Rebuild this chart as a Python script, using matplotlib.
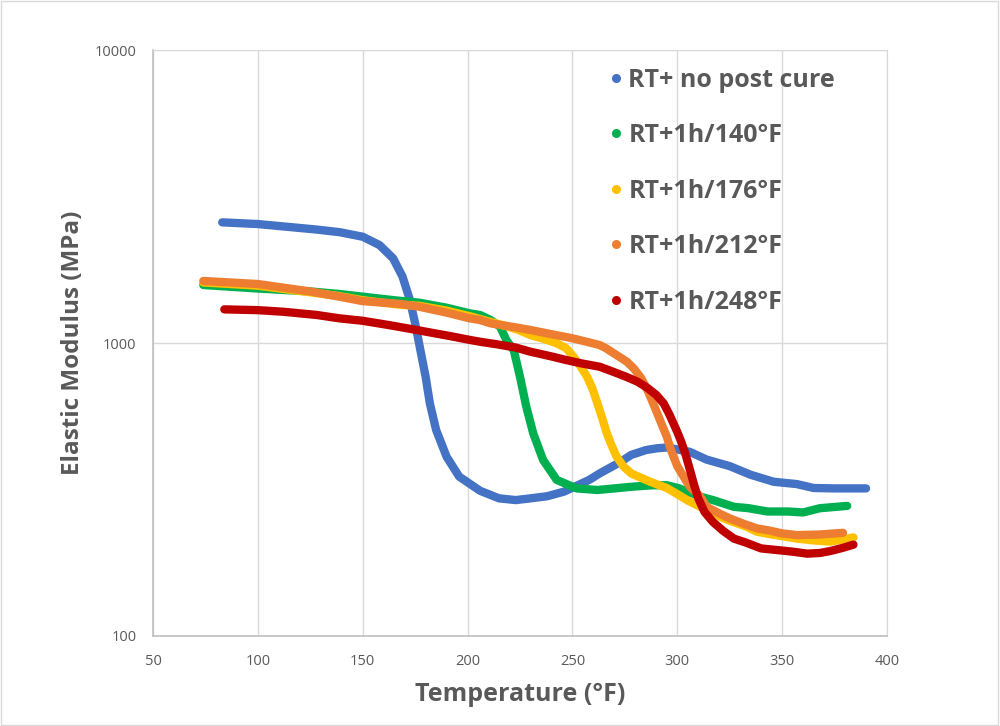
import matplotlib
matplotlib.use("Agg")
import matplotlib.pyplot as plt
from matplotlib.lines import Line2D
from matplotlib.patches import Rectangle
from matplotlib.ticker import NullLocator

plt.rcParams['font.family'] = ['Open Sans', 'DejaVu Sans']

# ---- data ----
labels = ["RT+ no post cure", "RT+1h/140°F", "RT+1h/176°F", "RT+1h/212°F", "RT+1h/248°F"]
colors = ["#4472C4", "#00B050", "#FFC000", "#ED7D31", "#C00000"]

blue_x = [83, 100, 128, 139, 150, 158, 164.5, 169, 172.5, 175, 177.5, 180, 182, 185, 190, 196,
          206, 215, 223, 230, 238, 246, 258, 263, 273, 278, 285, 290, 295, 301, 306, 314, 325,
          335, 346, 357, 365, 375, 390]
blue_y = [2582, 2548, 2440, 2390, 2306, 2160, 1946, 1684, 1402, 1167, 946, 767, 623, 505, 409, 350,
          313, 295, 291, 295, 300, 311, 341, 359, 393, 415, 431, 437, 440, 432, 425, 400, 380,
          355, 336, 330, 320, 319, 319]

green_x = [74, 100, 125, 139, 150, 165, 177, 190, 201, 206, 211, 215.5, 218.5, 222, 223.5, 225,
           228, 231.3, 236, 242.5, 252, 262, 270, 278, 288, 295, 301, 311, 317, 327, 334, 343,
           353, 360, 368, 381]
green_y = [1578, 1535, 1500, 1470, 1440, 1400, 1373, 1320, 1263, 1246, 1198, 1137, 1024, 946, 853,
           767, 606, 492, 399, 341, 319, 315, 319, 323, 327, 327, 319, 299, 291, 276, 273, 266,
           266, 264, 273, 278]

yellow_x = [74, 100, 125, 139, 150, 168, 177, 190, 201, 211, 218, 224, 230, 236, 242.5, 247,
            250.5, 254, 257, 259.5, 262, 264.5, 266.5, 268.5, 271, 274.5, 278, 285, 289, 295,
            300, 305, 311, 317, 324, 333, 338, 345, 352, 357, 365, 373, 384]
yellow_y = [1610, 1570, 1490, 1445, 1400, 1350, 1340, 1290, 1235, 1180, 1145, 1110, 1065, 1035,
            998, 960, 898, 830, 767, 700, 620, 545, 490, 450, 410, 378, 359, 341, 332, 320,
            305, 290, 276, 262, 249, 236, 227, 222, 218, 215, 212, 210, 217]

orange_x = [74, 100, 125, 139, 150, 168, 177, 190, 201, 206, 211, 223, 230, 240, 250, 258, 263,
            266, 270, 276, 279.5, 283, 286, 289, 292, 295, 297, 300, 303, 306, 311, 314, 320,
            325, 332, 338, 344, 350, 357, 368, 379]
orange_y = [1629, 1590, 1500, 1439, 1390, 1360, 1330, 1270, 1214, 1198, 1167, 1131, 1108, 1072,
            1038, 1005, 984, 960, 920, 863, 815, 755, 685, 610, 540, 479, 431, 380, 350, 323,
            299, 276, 262, 252, 241, 233, 229, 224, 221, 222, 225]

red_x = [84, 100, 112, 128, 139, 150, 163, 176, 192, 201, 206, 214, 223, 230, 240, 247, 254,
         263, 270, 276, 281, 285.5, 290, 293.5, 296, 298, 300, 302, 304, 306, 308, 310, 313,
         317, 322, 327, 333, 340, 349, 355, 362, 368, 373, 379, 384]
red_y = [1303, 1295, 1279, 1247, 1214, 1191, 1150, 1107, 1055, 1025, 1010, 990, 965, 934, 900,
         875, 853, 830, 795, 765, 738, 705, 665, 622, 575, 535, 497, 458, 415, 370, 328, 295,
         265, 245, 228, 215, 208, 199, 196, 194, 191, 192, 195, 200, 205]

series = [(blue_x, blue_y), (green_x, green_y), (yellow_x, yellow_y),
          (orange_x, orange_y), (red_x, red_y)]

x_ticks = [50, 100, 150, 200, 250, 300, 350, 400]
y_ticks = [100, 1000, 10000]

# ---- figure ----
fig = plt.figure(figsize=(10, 7.26), dpi=100)
ax = fig.add_axes([0.153, 0.124, 0.734, 0.807])

for (xs, ys), c in zip(series, colors):
    ax.plot(xs, ys, color=c, lw=6, solid_capstyle='round', solid_joinstyle='round')

ax.set_yscale('log')
ax.set_xlim(50, 400)
ax.set_ylim(100, 10000)
ax.set_xticks(x_ticks)
ax.set_xticklabels([str(v) for v in x_ticks])
ax.set_yticks(y_ticks)
ax.set_yticklabels([str(v) for v in y_ticks])
ax.yaxis.set_minor_locator(NullLocator())
ax.tick_params(axis='both', length=0, labelsize=10.5, labelcolor='#595959')
ax.tick_params(axis='x', pad=13)
ax.tick_params(axis='y', pad=12)
ax.grid(True, which='major', color='#d9d9d9', lw=1)
ax.set_axisbelow(True)
for s in ['top', 'right']:
    ax.spines[s].set_color('#d9d9d9')
for s in ['left', 'bottom']:
    ax.spines[s].set_color('#bfbfbf')
    ax.spines[s].set_linewidth(1.2)

ax.set_xlabel("Temperature (°F)", fontsize=18, fontweight='bold', color='#595959', labelpad=9)
ax.set_ylabel("Elastic Modulus (MPa)", fontsize=17.5, fontweight='bold', color='#595959', labelpad=7)

handles = [Line2D([], [], marker='o', ls='none', color=c, markersize=5.5) for c in colors]
leg = ax.legend(handles, labels, loc='upper left', bbox_to_anchor=(0.600, 0.987),
                frameon=False, fontsize=18, labelspacing=1.22, handletextpad=0.0,
                handlelength=1.0, borderaxespad=0)
for t in leg.get_texts():
    t.set_color('#595959')
    t.set_fontweight('bold')

fig.patches.append(Rectangle((0.001, 0.001), 0.997, 0.997, transform=fig.transFigure,
                             fill=False, edgecolor='#d9d9d9', lw=1))

fig.savefig("out.png", dpi=100)
